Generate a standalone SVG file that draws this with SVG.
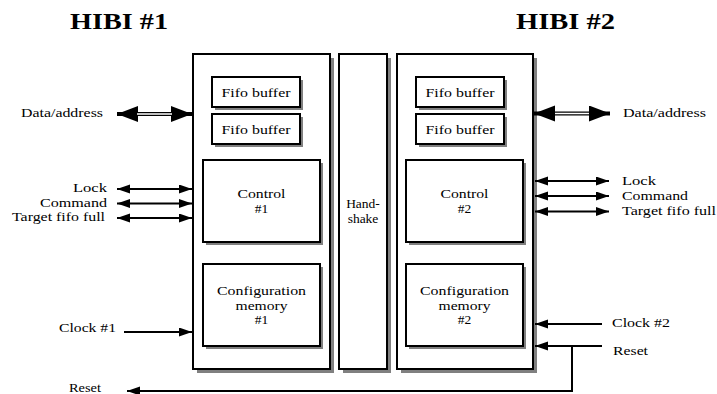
<svg xmlns="http://www.w3.org/2000/svg" width="717" height="394" viewBox="0 0 717 394">
<style>
text{font-family:"Liberation Serif","Times New Roman",serif;font-size:13.5px;fill:#000}
.title{font-size:23px;font-weight:bold}
.c{text-anchor:middle}
.e{text-anchor:end}
.shadow{fill:#808080}
.box{fill:#fff;stroke:#000;stroke-width:2}
.ln{fill:none;stroke:#000;stroke-width:2}
.big{fill:none;stroke:#000;stroke-width:4}
.mid{fill:none;stroke:#fff;stroke-width:1.3}
</style>
<defs>
<marker id="ah" markerUnits="userSpaceOnUse" markerWidth="14" markerHeight="10" refX="13" refY="4.5" orient="auto-start-reverse"><path d="M0,0 L13,4.5 L0,9 z" fill="#000"/></marker>
<marker id="bh" markerUnits="userSpaceOnUse" markerWidth="22" markerHeight="17" refX="21" refY="8" orient="auto-start-reverse"><path d="M0,0 L21,8 L0,16 z" fill="#000"/></marker>
</defs>
<rect width="717" height="394" fill="#fff"/>
<text class="title" x="70" y="29" textLength="98" lengthAdjust="spacingAndGlyphs">HIBI #1</text>
<text class="title" x="516" y="29" textLength="99" lengthAdjust="spacingAndGlyphs">HIBI #2</text>

<g id="hibi1">
<rect class="shadow" x="197" y="58" width="137" height="315"/>
<rect class="box" x="193" y="54" width="137" height="315"/>
</g>
<g id="handshake">
<rect class="shadow" x="343" y="58" width="48" height="315"/>
<rect class="box" x="339" y="54" width="48" height="315"/>
<text class="c" x="363" y="208">Hand-</text>
<text class="c" x="363" y="223">shake</text>
</g>
<g id="hibi2">
<rect class="shadow" x="401" y="58" width="136" height="315"/>
<rect class="box" x="397" y="54" width="136" height="315"/>
</g>

<g id="fifo1a">
<rect class="shadow" x="215" y="80" width="88" height="30"/>
<rect class="box" x="212" y="77" width="88" height="30"/>
<text class="c" x="256" y="97" textLength="69" lengthAdjust="spacingAndGlyphs">Fifo buffer</text>
</g>
<g id="fifo1b">
<rect class="shadow" x="215" y="117" width="88" height="30"/>
<rect class="box" x="212" y="114" width="88" height="30"/>
<text class="c" x="256" y="134" textLength="69" lengthAdjust="spacingAndGlyphs">Fifo buffer</text>
</g>
<g id="control1">
<rect class="shadow" x="206" y="163" width="117" height="82"/>
<rect class="box" x="203" y="160" width="117" height="82"/>
<text class="c" x="261.5" y="198" textLength="48" lengthAdjust="spacingAndGlyphs">Control</text>
<text class="c" x="261.5" y="213">#1</text>
</g>
<g id="config1">
<rect class="shadow" x="206" y="267" width="117" height="82"/>
<rect class="box" x="203" y="264" width="117" height="82"/>
<text class="c" x="261.5" y="295" textLength="89" lengthAdjust="spacingAndGlyphs">Configuration</text>
<text class="c" x="261.5" y="310" textLength="52" lengthAdjust="spacingAndGlyphs">memory</text>
<text class="c" x="261.5" y="324">#1</text>
</g>

<g id="fifo2a">
<rect class="shadow" x="419" y="80" width="88" height="30"/>
<rect class="box" x="416" y="77" width="88" height="30"/>
<text class="c" x="460" y="97" textLength="69" lengthAdjust="spacingAndGlyphs">Fifo buffer</text>
</g>
<g id="fifo2b">
<rect class="shadow" x="419" y="117" width="88" height="30"/>
<rect class="box" x="416" y="114" width="88" height="30"/>
<text class="c" x="460" y="134" textLength="69" lengthAdjust="spacingAndGlyphs">Fifo buffer</text>
</g>
<g id="control2">
<rect class="shadow" x="409" y="163" width="117" height="82"/>
<rect class="box" x="406" y="160" width="117" height="82"/>
<text class="c" x="464.5" y="198" textLength="48" lengthAdjust="spacingAndGlyphs">Control</text>
<text class="c" x="464.5" y="213">#2</text>
</g>
<g id="config2">
<rect class="shadow" x="409" y="267" width="117" height="82"/>
<rect class="box" x="406" y="264" width="117" height="82"/>
<text class="c" x="464.5" y="295" textLength="89" lengthAdjust="spacingAndGlyphs">Configuration</text>
<text class="c" x="464.5" y="310" textLength="52" lengthAdjust="spacingAndGlyphs">memory</text>
<text class="c" x="464.5" y="324">#2</text>
</g>

<g id="connectors">
<path class="big" d="M117,114 H192" marker-start="url(#bh)" marker-end="url(#bh)"/>
<path class="mid" d="M137,114 H172"/>
<path class="ln" d="M117,189 H192" marker-start="url(#ah)" marker-end="url(#ah)"/>
<path class="ln" d="M117,203.5 H192" marker-start="url(#ah)" marker-end="url(#ah)"/>
<path class="ln" d="M117,218 H192" marker-start="url(#ah)" marker-end="url(#ah)"/>
<path class="ln" d="M124,332 H192" marker-end="url(#ah)"/>

<path class="big" d="M534,113.5 H610" marker-start="url(#bh)" marker-end="url(#bh)"/>
<path class="mid" d="M555,113.5 H589"/>
<path class="ln" d="M535,181 H609" marker-start="url(#ah)" marker-end="url(#ah)"/>
<path class="ln" d="M535,196 H609" marker-start="url(#ah)" marker-end="url(#ah)"/>
<path class="ln" d="M535,211.5 H609" marker-start="url(#ah)" marker-end="url(#ah)"/>
<path class="ln" d="M602,324 H535" marker-end="url(#ah)"/>
<path class="ln" d="M602,346 H535" marker-end="url(#ah)"/>
<path class="ln" d="M572,346 V391 H127" marker-end="url(#ah)"/>
</g>

<g id="labels">
<text class="e" x="103" y="117" textLength="82" lengthAdjust="spacingAndGlyphs">Data/address</text>
<text class="e" x="107" y="192" textLength="34" lengthAdjust="spacingAndGlyphs">Lock</text>
<text class="e" x="107" y="206.5" textLength="67" lengthAdjust="spacingAndGlyphs">Command</text>
<text class="e" x="105" y="221" textLength="93" lengthAdjust="spacingAndGlyphs">Target fifo full</text>
<text class="e" x="116" y="332" textLength="57" lengthAdjust="spacingAndGlyphs">Clock #1</text>
<text x="69" y="392" textLength="32" lengthAdjust="spacingAndGlyphs">Reset</text>

<text x="623" y="117" textLength="83" lengthAdjust="spacingAndGlyphs">Data/address</text>
<text x="622" y="184.5" textLength="34" lengthAdjust="spacingAndGlyphs">Lock</text>
<text x="622" y="200" textLength="66" lengthAdjust="spacingAndGlyphs">Command</text>
<text x="622" y="215" textLength="94" lengthAdjust="spacingAndGlyphs">Target fifo full</text>
<text x="612" y="327" textLength="58" lengthAdjust="spacingAndGlyphs">Clock #2</text>
<text x="613" y="355" textLength="35" lengthAdjust="spacingAndGlyphs">Reset</text>
</g>
</svg>
